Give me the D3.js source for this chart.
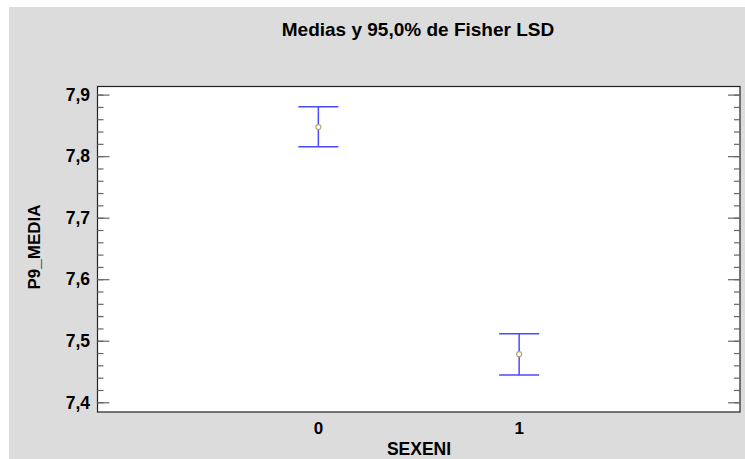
<!DOCTYPE html>
<html>
<head>
<meta charset="utf-8">
<script src="https://cdn.jsdelivr.net/npm/d3@7"></script>
<style>
  body { margin: 0; background: #fff; }
  text { font-family: "Liberation Sans", Arial, sans-serif; font-weight: bold; fill: #000; }
</style>
</head>
<body>
<svg id="chart" width="745" height="459"></svg>
<script>
// group levels and LSD intervals
var groups = ['0', '1'];
var means = [7.848, 7.479];
var lower = [7.816, 7.445];
var upper = [7.881, 7.512];
var yTicks = [7.4, 7.5, 7.6, 7.7, 7.8, 7.9];

var svg = d3.select('#chart');
var margin = { left: 97.5, right: 5, top: 86.5, bottom: 47 };
var W = 745, H = 459;

// grey panel
svg.append('rect')
  .attr('x', 9).attr('y', 7)
  .attr('width', W - 9).attr('height', H - 7)
  .attr('fill', '#dcdcdc');

var x = d3.scaleLinear().domain([-1.1, 2.1]).range([margin.left, W - margin.right]);
var y = d3.scaleLinear().domain([7.385, 7.914]).range([H - margin.bottom, margin.top]);

svg.append('rect')
  .attr('x', margin.left).attr('y', margin.top)
  .attr('width', W - margin.right - margin.left)
  .attr('height', H - margin.bottom - margin.top)
  .attr('fill', '#fff')
  .attr('stroke', '#222')
  .attr('stroke-width', 1.2);

// major + minor ticks, left and right, pointing in
var minor = d3.range(7.40, 7.9001, 0.02);
function drawTicks(xpos, dir) {
  var g = svg.append('g');
  g.selectAll('line.minor').data(minor).enter().append('line')
    .attr('x1', xpos).attr('x2', xpos + dir * 6)
    .attr('y1', function(d) { return y(d); })
    .attr('y2', function(d) { return y(d); })
    .attr('stroke', '#666').attr('stroke-width', 1.2);
  g.selectAll('line.major').data(yTicks).enter().append('line')
    .attr('x1', xpos).attr('x2', xpos + dir * 12)
    .attr('y1', function(d) { return y(d); })
    .attr('y2', function(d) { return y(d); })
    .attr('stroke', '#666').attr('stroke-width', 1.2);
}
drawTicks(margin.left, 1);
drawTicks(W - margin.right, -1);

var fmt = function(d) { return d3.format('.1f')(d).replace('.', ','); };
svg.selectAll('text.ytick').data(yTicks).enter().append('text')
  .attr('x', margin.left - 7.5)
  .attr('y', function(d) { return y(d); })
  .attr('dy', '0.33em')
  .attr('text-anchor', 'end')
  .style('font-size', '17.5px')
  .text(fmt);

svg.selectAll('text.xtick').data(groups).enter().append('text')
  .attr('x', function(d) { return x(+d); })
  .attr('y', 434)
  .attr('text-anchor', 'middle')
  .style('font-size', '17px')
  .text(function(d) { return d; });

// error bars
var bars = svg.append('g');
groups.forEach(function(gname, i) {
  var cx = x(+gname);
  bars.append('line')
    .attr('x1', cx).attr('x2', cx)
    .attr('y1', y(upper[i])).attr('y2', y(lower[i]))
    .attr('stroke', '#4a4aff').attr('stroke-width', 1.5);
  [upper[i], lower[i]].forEach(function(v) {
    bars.append('line')
      .attr('x1', cx - 20).attr('x2', cx + 20)
      .attr('y1', y(v)).attr('y2', y(v))
      .attr('stroke', '#4a4aff').attr('stroke-width', 1.5);
  });
  bars.append('circle')
    .attr('cx', cx).attr('cy', y(means[i]))
    .attr('r', 2.5)
    .attr('fill', '#fff')
    .attr('stroke', '#b4a878').attr('stroke-width', 1.2);
});

svg.append('text')
  .attr('x', 418)
  .attr('y', 36)
  .attr('text-anchor', 'middle')
  .style('font-size', '19px')
  .text('Medias y 95,0% de Fisher LSD');

svg.append('text')
  .attr('x', 419)
  .attr('y', 455)
  .attr('text-anchor', 'middle')
  .style('font-size', '17.5px')
  .text('SEXENI');

svg.append('text')
  .attr('transform', 'translate(40,247) rotate(-90)')
  .attr('text-anchor', 'middle')
  .style('font-size', '17px')
  .text('P9_MEDIA');
</script>
</body>
</html>
